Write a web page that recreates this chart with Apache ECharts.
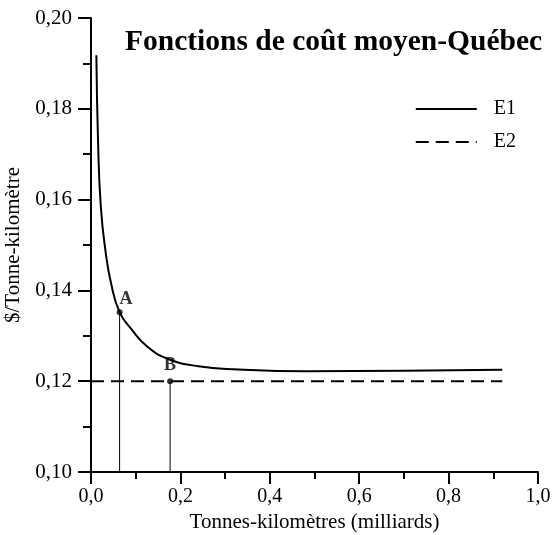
<!DOCTYPE html>
<html>
<head>
<meta charset="utf-8">
<script src="https://cdn.jsdelivr.net/npm/echarts@6/dist/echarts.min.js"></script>
<style>
  html, body { margin: 0; padding: 0; background: #fff; }
  #chart { width: 553px; height: 535px; }
</style>
</head>
<body>
<div id="chart"></div>
<script>
// Courbe E1 (coût moyen)
const e1X = [0.012, 0.016, 0.022, 0.032, 0.045, 0.064, 0.09, 0.125, 0.17, 0.24, 0.33, 0.48, 0.7, 0.92];
const e1Y = [0.1918, 0.172, 0.1584, 0.149, 0.1415, 0.1352, 0.1315, 0.1277, 0.1250, 0.1233, 0.1226, 0.1222, 0.1223, 0.1225];
// Droite E2
const e2X = [0, 0.92];
const e2Y = [0.120, 0.120];
// Points A et B
const ptNames = ['A', 'B'];
const ptX = [0.064, 0.177];
const ptY = [0.1352, 0.120];

const serif = 'Liberation Serif';
const zip = (xs, ys) => xs.map((x, i) => [x, ys[i]]);
const comma = (v, d) => v.toFixed(d).replace('.', ',');

const chart = echarts.init(document.getElementById('chart'));

const dropSeries = ptX.map((x, i) => ({
  type: 'line',
  silent: true,
  symbol: 'none',
  lineStyle: { color: '#000', width: 1 },
  data: [[x, 0.10], [x, ptY[i]]],
  z: 1
}));

chart.setOption({
  animation: false,
  title: {
    text: 'Fonctions de coût moyen-Québec',
    left: 120,
    top: 22,
    textStyle: { fontFamily: serif, fontWeight: 'bold', fontSize: 29.5, color: '#000' }
  },
  legend: {
    orient: 'vertical',
    right: 32,
    top: 94,
    itemWidth: 61,
    itemHeight: 14,
    itemGap: 13,
    data: ['E1', 'E2'],
    itemStyle: { opacity: 0 },
    textStyle: { fontFamily: serif, fontSize: 20, color: '#000', padding: [0, 0, 0, 12] }
  },
  grid: { left: 91, right: 15, top: 18, bottom: 63, outerBoundsMode: 'none' },
  xAxis: {
    type: 'value',
    min: 0,
    max: 1,
    interval: 0.2,
    name: 'Tonnes-kilomètres (milliards)',
    nameLocation: 'middle',
    nameGap: 34,
    nameTextStyle: { fontFamily: serif, fontSize: 21, color: '#000' },
    axisLine: { lineStyle: { color: '#000', width: 2 } },
    axisTick: { length: 12, lineStyle: { color: '#000', width: 2 } },
    minorTick: { show: true, splitNumber: 2, length: 7, lineStyle: { color: '#000', width: 2 } },
    splitLine: { show: false },
    axisLabel: { margin: 15, fontFamily: serif, fontSize: 20, color: '#000', formatter: v => comma(v, 1) }
  },
  yAxis: {
    type: 'value',
    min: 0.10,
    max: 0.20,
    interval: 0.02,
    name: '$/Tonne-kilomètre',
    nameLocation: 'middle',
    nameGap: 63,
    nameTextStyle: { fontFamily: serif, fontSize: 21, color: '#000' },
    axisLine: { lineStyle: { color: '#000', width: 2 } },
    axisTick: { length: 13, lineStyle: { color: '#000', width: 2 } },
    minorTick: { show: true, splitNumber: 2, length: 8, lineStyle: { color: '#000', width: 2 } },
    splitLine: { show: false },
    axisLabel: { margin: 19, fontFamily: serif, fontSize: 21, color: '#000', formatter: v => comma(v, 2) }
  },
  series: [
    {
      name: 'E1',
      type: 'line',
      symbol: 'none',
      smooth: 0.5,
      lineStyle: { color: '#000', width: 2 },
      itemStyle: { color: '#000' },
      data: zip(e1X, e1Y),
      z: 3
    },
    {
      name: 'E2',
      type: 'line',
      symbol: 'none',
      lineStyle: { color: '#000', width: 2, type: [13, 7] },
      itemStyle: { color: '#000' },
      data: zip(e2X, e2Y),
      z: 3
    },
    ...dropSeries,
    {
      type: 'scatter',
      symbolSize: 6,
      itemStyle: { color: '#000' },
      data: ptX.map((x, i) => ({
        value: [x, ptY[i]],
        name: ptNames[i],
        label: {
          show: true,
          formatter: ptNames[i],
          position: i === 0 ? [3, -19] : 'top',
          distance: 4,
          fontFamily: serif,
          fontWeight: 'bold',
          fontSize: 18,
          color: '#000'
        }
      })),
      z: 5
    }
  ]
});
</script>
</body>
</html>
